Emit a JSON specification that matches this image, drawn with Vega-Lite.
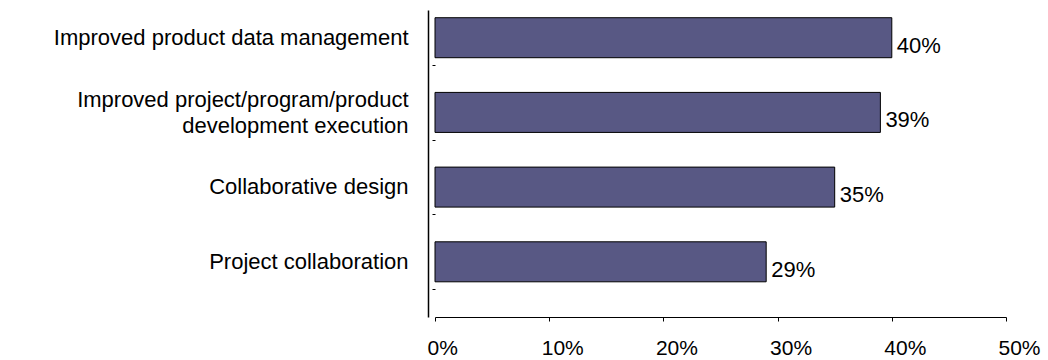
{
  "$schema": "https://vega.github.io/schema/vega-lite/v6.json",
  "width": 571,
  "height": 307,
  "autosize": {"type": "none"},
  "padding": {"left": 435, "top": 10, "right": 42, "bottom": 43},
  "background": "white",
  "config": {"view": {"stroke": null}, "font": "Liberation Sans"},
  "data": {
    "values": [
      {"item": "Improved product data management", "pct": 0.40},
      {"item": "Improved project/program/product|development execution", "pct": 0.39},
      {"item": "Collaborative design", "pct": 0.35},
      {"item": "Project collaboration", "pct": 0.29}
    ]
  },
  "layer": [
    {
      "mark": {"type": "bar", "size": 40, "color": "#585884", "stroke": "black", "strokeWidth": 1},
      "encoding": {
        "y": {
          "field": "item", "type": "nominal", "sort": null,
          "scale": {"paddingInner": 0.258, "paddingOuter": 0.184, "align": 0},
          "axis": {
            "orient": "left",
            "title": null, "offset": 7, "domainColor": "black", "domainWidth": 1.5,
            "ticks": false, "labelPadding": 20, "labelFontSize": 22, "labelColor": "black",
            "labelExpr": "split(datum.label, '|')", "labelLineHeight": 26, "labelLimit": 600,
            "labelOffset": {"condition": {"test": "indexof(datum.value, '|') >= 0", "value": -12}, "value": 0}
          }
        },
        "x": {
          "field": "pct", "type": "quantitative",
          "scale": {"domain": [0, 0.5]},
          "axis": {
            "title": null, "values": [0, 0.1, 0.2, 0.3, 0.4, 0.5], "format": ".0%",
            "grid": false, "domainColor": "black", "tickColor": "black", "tickSize": 4,
            "labelFontSize": 21, "labelColor": "black", "labelPadding": 16,
            "labelAlign": "left", "labelOffset": -8, "labelBaseline": "top", "labelFlush": false
          }
        }
      }
    },
    {
      "mark": {"type": "text", "align": "left", "baseline": "middle", "dx": 5, "dy": 8, "fontSize": 22, "color": "black"},
      "encoding": {
        "y": {
          "field": "item", "type": "nominal", "sort": null,
          "axis": {
            "orient": "left",
            "title": null, "offset": 0, "domain": false, "labels": false,
            "ticks": true, "tickSize": 3, "tickColor": "black", "bandPosition": 1
          }
        },
        "x": {"field": "pct", "type": "quantitative"},
        "text": {"field": "pct", "type": "quantitative", "format": ".0%"}
      }
    }
  ],
  "resolve": {"axis": {"y": "independent"}}
}
